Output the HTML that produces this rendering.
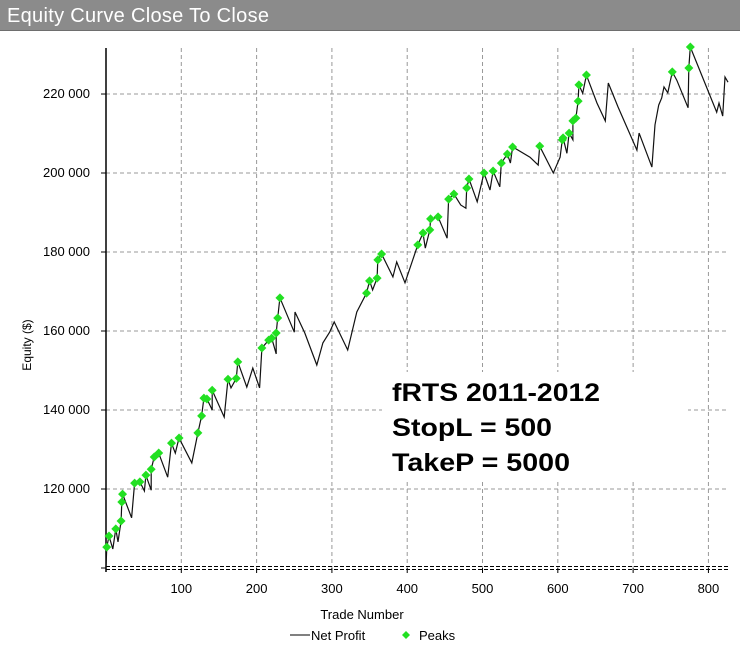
<!DOCTYPE html>
<html><head><meta charset="utf-8"><style>
body{margin:0;background:#fff;}
svg{display:block;font-family:"Liberation Sans",sans-serif;}
</style></head><body>
<svg id="chart" width="740" height="652" viewBox="0 0 740 652">
<rect x="0" y="0" width="740" height="30" fill="#8b8b8b"/>
<line x1="0" y1="30.5" x2="740" y2="30.5" stroke="#6e6e6e"/>
<text x="7" y="22" font-size="20" fill="#fff" textLength="262">Equity Curve Close To Close</text>
<g id="grid"></g>
<g id="axes"></g>
<rect x="382" y="372" width="306" height="108" fill="#fff"/>
<g font-weight="bold" font-size="25" fill="#000">
<text x="392" y="401" textLength="208" lengthAdjust="spacingAndGlyphs">fRTS 2011-2012</text>
<text x="392" y="436" textLength="160" lengthAdjust="spacingAndGlyphs">StopL = 500</text>
<text x="392" y="471" textLength="178" lengthAdjust="spacingAndGlyphs">TakeP = 5000</text>
</g>
<g id="series"></g>
<text x="31" y="345" font-size="12" transform="rotate(-90 31 345)" text-anchor="middle">Equity ($)</text>
<text x="362" y="619" font-size="13" text-anchor="middle">Trade Number</text>
<g>
<g><line x1="290" y1="635" x2="310" y2="635" stroke="#000"/><text x="311" y="640" font-size="13">Net Profit</text></g>
<g><path d="M406 631 L410 635 L406 639 L402 635Z" fill="#22e022"/><text x="419" y="640" font-size="13">Peaks</text></g>
</g>
</svg>
<script>
const xTicks=[100,200,300,400,500,600,700,800];
const yTicks=[120000,140000,160000,180000,200000,220000];
const yTickLabels=["120 000","140 000","160 000","180 000","200 000","220 000"];
const trades=[0,1,4,9,13,16,20,21,22,34,38,45,51,53,60,60,64,70,82,87,92,97,114,122,127,130,134,141,141,157,162,166,173,175,187,195,204,207,216,220,226,226,228,231,250,251,264,280,288,297,303,321,333,346,350,354,360,361,366,381,386,397,414,421,424,430,431,441,453,455,462,471,478,479,482,493,502,510,514,523,525,533,537,540,563,574,576,594,603,606,607,612,615,620,620,624,627,628,633,638,652,663,667,680,705,708,725,729,734,738,741,746,752,758,773,774,776,811,814,819,822,826];
const equity=[100.3,105.3,108.1,104.8,109.9,106.6,111.9,116.7,118.7,112.7,121.5,121.8,119.5,123.5,119.7,125,128.1,129.1,123,131.6,129.1,132.9,126.6,134.2,138.5,143,142.8,140,145,138.2,147.8,145.6,148,152.2,145.8,150.6,145.6,155.7,157.7,158.2,154.2,159.5,163.3,168.4,159.7,164.8,159.5,151.4,157,159.7,162.3,155.2,164.8,169.6,172.7,170.4,173.4,178,179.5,173.7,177.5,172.2,181.8,184.8,181,185.6,188.4,188.9,183.5,193.4,194.7,191.9,191.1,196.2,198.5,192.7,200,195.7,200.5,196.5,202.5,204.8,202.5,206.6,204,202,206.8,200,204,208.4,208.9,205,210.1,208.4,213.2,213.9,218.2,222.3,220.2,224.8,217.7,213.2,222.8,216.7,205.8,210.1,201.5,212.2,217.2,219,221.8,220.3,225.6,223.5,216.5,226.6,231.9,215.4,217.7,214.4,224.3,223];
const peakTrades=[1,4,13,20,21,22,38,45,53,60,64,70,87,97,122,127,130,134,141,162,173,175,207,216,220,226,228,231,346,350,360,361,366,414,421,430,431,441,455,462,479,482,502,514,525,533,540,576,606,607,615,620,624,627,628,638,752,774,776];
const peakEquity=[105.3,108.1,109.9,111.9,116.7,118.7,121.5,121.8,123.5,125,128.1,129.1,131.6,132.9,134.2,138.5,143,142.8,145,147.8,148,152.2,155.7,157.7,158.2,159.5,163.3,168.4,169.6,172.7,173.4,178,179.5,181.8,184.8,185.6,188.4,188.9,193.4,194.7,196.2,198.5,200,200.5,202.5,204.8,206.6,206.8,208.4,208.9,210.1,213.2,213.9,218.2,222.3,224.8,225.6,226.6,231.9];
const X0=106,X1=728,Y0=568,Y1=48,XMAX=826,YMIN=100000,YMAX=231650;
const sx=t=>X0+(t/XMAX)*(X1-X0);
const sy=v=>Y0-(v-YMIN)/(YMAX-YMIN)*(Y0-Y1);
const NS="http://www.w3.org/2000/svg";
function mk(tag,attrs,parent){const e=document.createElementNS(NS,tag);for(const k in attrs)e.setAttribute(k,attrs[k]);parent.appendChild(e);return e;}
const grid=document.getElementById('grid'),axes=document.getElementById('axes'),series=document.getElementById('series');
xTicks.forEach(t=>{
  const l=mk('line',{x1:sx(t),y1:Y1,x2:sx(t),y2:Y0,stroke:'#999','stroke-dasharray':'4,3'},grid);
  
  
  mk('line',{x1:sx(t),y1:Y0,x2:sx(t),y2:Y0+5,stroke:'#000'},axes);
  const tx=mk('text',{x:sx(t),y:Y0+25,'font-size':13,'text-anchor':'middle'},axes);
  tx.textContent=t;
  
  
});
yTicks.forEach((v,i)=>{
  const l=mk('line',{x1:X0,y1:sy(v),x2:X1,y2:sy(v),stroke:'#999','stroke-dasharray':'4,3'},grid);
  
  
  mk('line',{x1:X0-5,y1:sy(v),x2:X0,y2:sy(v),stroke:'#000'},axes);
  const tx=mk('text',{x:X0-16,y:sy(v)+4,'font-size':13,'text-anchor':'end'},axes);
  tx.textContent=yTickLabels[i];
  
  
});
mk('line',{x1:X0,y1:Y1,x2:X0,y2:Y0+4,stroke:'#000','stroke-width':1.5},axes);
mk('line',{x1:X0-5,y1:Y0,x2:X0,y2:Y0,stroke:'#000'},axes);
mk('line',{x1:X0,y1:Y0-1.5,x2:X1,y2:Y0-1.5,stroke:'#000','stroke-dasharray':'4,2'},axes);
mk('line',{x1:X0,y1:Y0+1.5,x2:X1,y2:Y0+1.5,stroke:'#000','stroke-dasharray':'4,2'},axes);
const pts=trades.map((t,i)=>sx(t).toFixed(1)+','+sy(equity[i]*1000).toFixed(1)).join(' ');
const pl=mk('polyline',{points:pts,fill:'none',stroke:'#111','stroke-width':1.2},series);


peakTrades.forEach((t,i)=>{
  const x=sx(t),y=sy(peakEquity[i]*1000),r=4.5;
  const d=mk('path',{d:`M${x} ${y-r}L${x+r} ${y}L${x} ${y+r}L${x-r} ${y}Z`,fill:'#22e022'},series);
  
  
});
</script>
</body></html>
